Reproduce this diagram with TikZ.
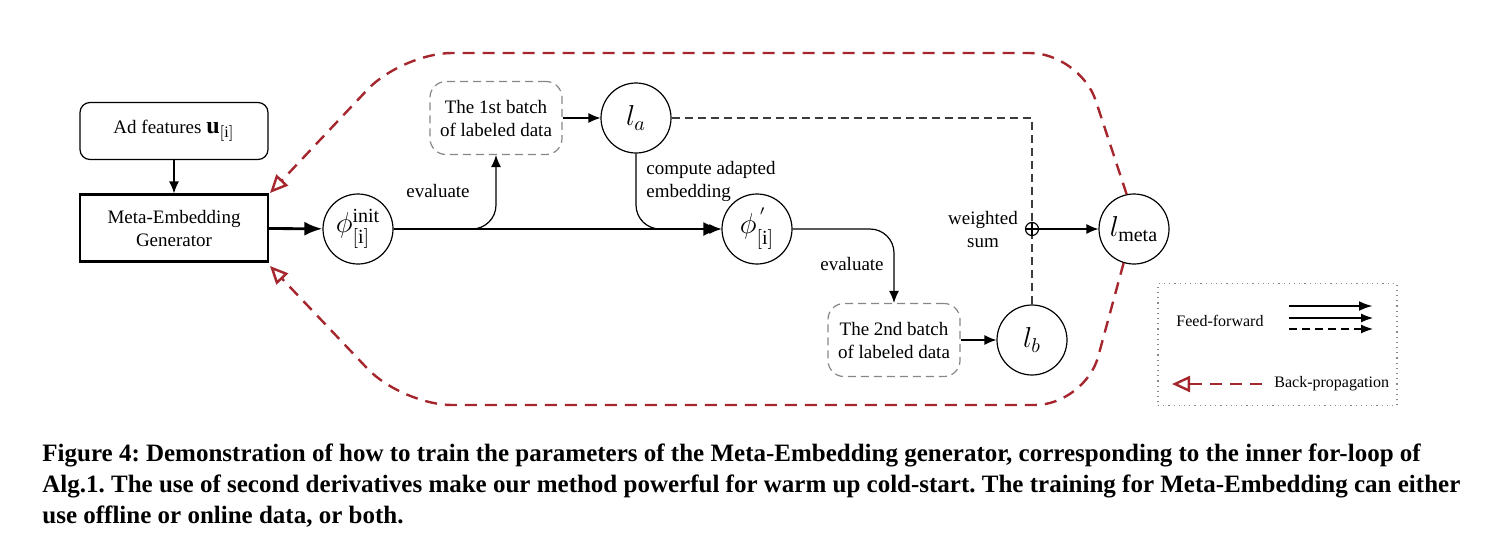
\documentclass[tikz,border=0pt]{standalone}
\usepackage{fontspec}
\setmainfont{Liberation Serif}
\usetikzlibrary{arrows.meta}
\frenchspacing
\definecolor{bpred}{RGB}{165,38,44}
\definecolor{boxgray}{RGB}{135,135,135}
\definecolor{dashgray}{RGB}{60,60,60}
\newcommand{\lowsub}{\raisebox{-2pt}{$\scriptstyle[\mathrm{i}]$}}
\tikzset{
  txt/.style={font=\fontsize{9.5}{11.5}\selectfont},
  circnode/.style={circle, draw, line width=0.6pt, minimum size=35pt, inner sep=0pt, font=\Large},
  adbox/.style={rectangle, rounded corners=5pt, draw, line width=0.6pt, minimum width=94pt, minimum height=28.5pt, txt},
  genbox/.style={rectangle, draw, line width=1.1pt, minimum width=94pt, minimum height=33.5pt, align=center, txt},
  batchbox/.style={rectangle, rounded corners=8pt, draw=boxgray, line width=0.6pt, dash pattern=on 4pt off 2.5pt, minimum width=66pt, minimum height=36.5pt, align=center, txt},
  thin/.style={line width=0.6pt, -{Latex[length=6pt,width=5pt]}},
  thick/.style={line width=1.4pt, -{Latex[length=9pt,width=7pt]}},
  ffdash/.style={draw=dashgray, line width=0.6pt, dash pattern=on 4pt off 2.5pt},
  bparrow/.style={draw=bpred, line width=1.2pt, dash pattern=on 6pt off 4pt, -{Triangle[open, length=9pt, width=8pt, line width=1.2pt]}},
  lbl/.style={txt, inner sep=0pt},
}
\begin{document}
\begin{tikzpicture}[x=0.5pt, y=-0.5pt]
\useasboundingbox (0,0) rectangle (1504,552);
% nodes
\node[adbox] (ad) at (174,131) {Ad features {\large$\mathbf{u}_{[\mathrm{i}]}$}};
\node[genbox] (gen) at (174,228) {Meta-Embedding\\Generator};
\node[circnode] (phiinit) at (358,229) {$\phi^{\mathrm{init}}_{\lowsub}$};
\node[batchbox] (b1) at (496,118) {The 1st batch\\of labeled data};
\node[circnode] (la) at (636,118) {$l_a$};
\node[circnode] (phip) at (757,229) {$\phi^{\,'}_{\lowsub}$};
\node[batchbox] (b2) at (894,340) {The 2nd batch\\of labeled data};
\node[circnode] (lb) at (1032,340) {$l_b$};
\node[circle, draw, line width=0.6pt, minimum size=6.5pt, inner sep=0pt] (sum) at (1032,229) {};
\draw[line width=0.6pt] (sum.north) -- (sum.south) (sum.west) -- (sum.east);
\node[circnode] (lmeta) at (1134,229) {$l_{\mathrm{meta}}$};
% labels
\node[lbl] (ev1) at (438,191) {evaluate};
\node[lbl, align=left, anchor=west] (cae) at (646,181) {compute adapted\\embedding};
\node[lbl, align=center] (ws) at (983,229) {weighted\\sum};
\node[lbl] (ev2) at (852,264) {evaluate};
% feed-forward connectors
\draw[thin] (ad) -- (gen);
\draw[thick] (gen) -- (phiinit);
\draw[thick] (phiinit) -- (phip);
\draw[thin, rounded corners=12pt] (phiinit.east) -| (b1.south);
\draw[thin] (b1) -- (la);
\draw[thin, rounded corners=12pt] (la.south) |- (phip.west);
\draw[thin, rounded corners=12pt] (phip.east) -| (b2.north);
\draw[thin] (b2) -- (lb);
\draw[ffdash] (la.east) -| (sum.north);
\draw[ffdash] (lb.north) -- (sum.south);
\draw[thin] (sum) -- (lmeta);
% back-propagation
\coordinate (topend) at (270,193);
\coordinate (botend) at (270,266);
\draw[bparrow, rounded corners=25pt] (lmeta.102) -- (1080,53) -- (402,53) -- (topend);
\draw[bparrow, rounded corners=25pt] (lmeta.253) -- (1085,405) -- (402,405) -- (botend);
% legend
\node[draw=boxgray, dotted, line width=0.6pt, minimum width=119.5pt, minimum height=61pt, inner sep=0pt] (legend) at (1277.5,344.5) {};
\node[font=\fontsize{8}{10}\selectfont, inner sep=0pt] (fftxt) at (1220,321) {Feed-forward};
\coordinate (ffa1) at (1289,306); \coordinate (ffb1) at (1373,306);
\coordinate (ffa2) at (1289,318); \coordinate (ffb2) at (1373,318);
\coordinate (ffa3) at (1289,329); \coordinate (ffb3) at (1373,329);
\draw[line width=1.3pt, -{Latex[length=7pt,width=5pt]}] (ffa1) -- (ffb1);
\draw[line width=0.6pt, -{Latex[length=6pt,width=4.5pt]}] (ffa2) -- (ffb2);
\draw[line width=0.6pt, dash pattern=on 4pt off 2.5pt, -{Latex[length=6pt,width=4.5pt]}] (ffa3) -- (ffb3);
\coordinate (bpa) at (1262,384); \coordinate (bpb) at (1172,384);
\draw[bparrow] (bpa) -- (bpb);
\node[font=\fontsize{8}{10}\selectfont, inner sep=0pt, anchor=west] (bptxt) at (1274,384) {Back-propagation};
% caption
\node[anchor=north west, align=left, inner sep=0pt, font=\bfseries\fontsize{12.5}{15.5}\selectfont] (cap) at (42,443)
{Figure 4: Demonstration of how to train the parameters of the Meta-Embedding generator, corresponding to the inner for-loop of\\
Alg.1. The use of second derivatives make our method powerful for warm up cold-start. The training for Meta-Embedding can either\\
use offline or online data, or both.};
\end{tikzpicture}
\end{document}
